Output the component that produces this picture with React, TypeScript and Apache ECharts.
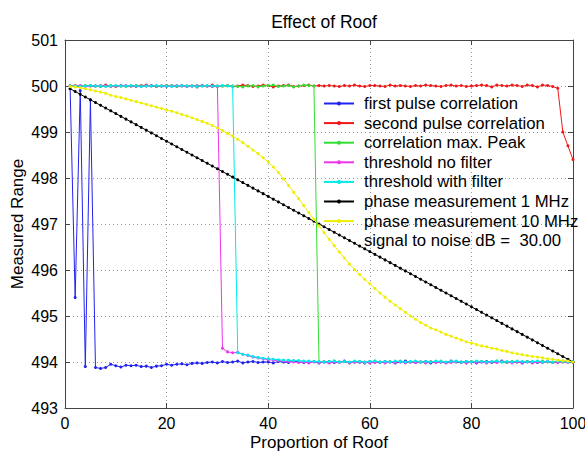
import React, { useEffect, useRef } from "react";
import * as echarts from "echarts";

const xs = Array.from({ length: 100 }, (_, i) => i + 1);

const firstPulse = [
  500, 495.4, 499.9, 493.9, 499.7, 493.88, 493.86, 493.88, 493.95, 493.92,
  493.89, 493.93, 493.92, 493.93, 493.9, 493.91, 493.88, 493.91, 493.92, 493.95,
  493.93, 493.95, 493.96, 493.94, 493.97, 493.98, 493.97, 493.99, 494.0, 493.98,
  494.01, 493.99, 494.0, 494.02, 493.98, 494.0, 494.01, 493.99, 494.0, 494.0,
  493.98, 494.01, 494.0, 493.99, 494.02, 494.0, 493.99, 494.0, 494.01, 493.98,
  494.0, 494.01, 493.99, 494.0, 494.02, 493.99, 494.0, 494.0, 493.98, 494.01,
  494.0, 493.99, 494.01, 494.0, 493.98, 494.0, 494.02, 494.0, 493.99, 494.0,
  494.01, 493.98, 494.0, 494.0, 493.99, 494.02, 494.0, 493.99, 494.01, 494.0,
  493.98, 494.0, 494.01, 493.99, 494.0, 494.02, 493.99, 494.0, 494.0, 493.98,
  494.01, 494.0, 493.99, 494.0, 494.01, 493.99, 494.0, 494.02, 494.0, 494.0,
];

const secondPulse = [
  500, 500.01, 499.99, 500, 500.01, 500, 499.99, 500.02, 500, 499.99,
  500.01, 500, 500, 499.99, 500.01, 500.02, 500, 499.99, 500, 500.01,
  500, 499.99, 500.01, 500, 500, 499.98, 500.01, 500, 500.02, 499.99,
  500, 500.01, 499.99, 500, 500.02, 500.01, 499.99, 500, 500.02, 500.01,
  499.98, 500, 500.01, 500.02, 499.99, 500, 500.01, 500.02, 500, 500.01,
  500, 500.01, 500, 499.99, 500.01, 500, 500.02, 500, 499.99, 500.01,
  500.01, 500, 499.99, 500.02, 500, 500.01, 500, 499.99, 500.01, 500,
  500.02, 500.01, 500, 499.99, 500.01, 500.02, 500, 500.01, 499.99, 500,
  500.01, 500.02, 500.01, 499.98, 500.02, 500.01, 500, 500.02, 500.01, 499.99,
  500.02, 500.01, 499.98, 500.02, 500.01, 499.99, 499.95, 499.0, 498.7, 498.4,
];

const corrMaxPeak = [
  500, 500, 499.99, 500.01, 500, 500, 499.99, 500, 500.01, 500,
  500, 499.99, 500, 500.01, 500, 500, 500.01, 499.99, 500, 500,
  500.01, 500, 500, 499.99, 500, 500.01, 500, 500, 499.99, 500,
  500, 500.01, 500, 499.99, 499.98, 500, 500.01, 499.98, 500, 500.01,
  500.02, 499.99, 500, 500.01, 499.98, 500, 500.02, 500.01, 500,
  494.0, 494.01, 493.99, 494.02, 494.0, 494.01, 493.98, 494.0, 494.01, 493.99, 494.0,
  494.02, 494.0, 493.99, 494.01, 494.0, 494.02, 493.99, 494.0, 494.01, 494.0,
  493.99, 494.01, 494.0, 494.02, 493.99, 494.0, 494.01, 494.0, 493.98, 494.01,
  494.0, 494.01, 493.99, 494.0, 494.02, 494.0, 493.99, 494.01, 494.0, 494.0,
  494.01, 493.99, 494.0, 494.02, 494.0, 493.99, 494.01, 494.0, 494.0, 494.0,
];

const thresholdNoFilter = [
  500, 500, 500.01, 499.99, 500, 500, 500.01, 500, 499.99, 500,
  500, 500.01, 500, 500, 499.99, 500, 500.01, 500, 500, 499.99,
  500, 500.01, 500, 499.99, 500, 500, 500.01, 500, 499.99, 500,
  494.3, 494.22, 494.2, 494.21, 494.17, 494.14, 494.11, 494.09, 494.07, 494.05,
  494.04, 494.03, 494.02, 494.01, 494.0, 493.99, 494.0, 493.98, 494.0, 493.99,
  494.0, 493.98, 494.0, 493.99, 494.01, 493.98, 494.0, 493.99, 494.0, 493.98,
  493.99, 494.0, 493.98, 494.0, 493.99, 494.01, 493.98, 494.0, 493.99, 494.0,
  493.98, 494.0, 493.99, 494.0, 493.98, 493.99, 494.01, 494.0, 493.98, 494.0,
  493.99, 494.0, 493.98, 494.0, 493.99, 494.01, 494.0, 493.98, 494.0, 493.99,
  494.0, 493.98, 494.0, 493.99, 494.01, 494.0, 493.99, 494.0, 493.99, 494.0,
];

const thresholdWithFilter = [
  500, 500, 499.99, 500, 500.01, 500, 500, 499.99, 500, 500.01,
  500, 500, 500.01, 500, 499.99, 500, 500, 500.01, 500, 500,
  499.99, 500, 500.01, 500, 500, 499.99, 500, 500.01, 500, 500,
  500.01, 500, 500,
  494.2, 494.17, 494.15, 494.12, 494.1, 494.08, 494.07,
  494.06, 494.05, 494.04, 494.04, 494.03, 494.03, 494.02, 494.02, 494.01, 494.01,
  494.0, 494.01, 494.02, 494.0, 494.01, 494.0, 494.02, 494.01, 494.0, 494.01,
  494.02, 494.0, 494.01, 494.0, 494.02, 494.01, 494.0, 494.01, 494.02, 494.0,
  494.01, 494.0, 494.02, 494.01, 494.0, 494.01, 494.02, 494.0, 494.01, 494.0,
  494.02, 494.01, 494.0, 494.01, 494.02, 494.0, 494.01, 494.0, 494.02, 494.01,
  494.0, 494.01, 494.02, 494.0, 494.01, 494.0, 494.02, 494.01, 494.0, 494.01,
];

const phase1MHz = [
  499.94, 499.88, 499.82, 499.76, 499.7, 499.64, 499.58, 499.52, 499.46, 499.4,
  499.34, 499.28, 499.22, 499.16, 499.1, 499.04, 498.98, 498.92, 498.86, 498.8,
  498.74, 498.68, 498.62, 498.56, 498.5, 498.44, 498.38, 498.32, 498.26, 498.2,
  498.14, 498.08, 498.02, 497.96, 497.9, 497.84, 497.78, 497.72, 497.66, 497.6,
  497.54, 497.48, 497.42, 497.36, 497.3, 497.24, 497.18, 497.12, 497.06, 497.0,
  496.94, 496.88, 496.82, 496.76, 496.7, 496.64, 496.58, 496.52, 496.46, 496.4,
  496.34, 496.28, 496.22, 496.16, 496.1, 496.04, 495.98, 495.92, 495.86, 495.8,
  495.74, 495.68, 495.62, 495.56, 495.5, 495.44, 495.38, 495.32, 495.26, 495.2,
  495.14, 495.08, 495.02, 494.96, 494.9, 494.84, 494.78, 494.72, 494.66, 494.6,
  494.54, 494.48, 494.42, 494.36, 494.3, 494.24, 494.18, 494.12, 494.06, 494.0,
];

const phase10MHz = [
  499.99, 499.98, 499.96, 499.94, 499.92, 499.89, 499.87, 499.84, 499.8, 499.77,
  499.75, 499.72, 499.69, 499.66, 499.63, 499.6, 499.57, 499.54, 499.51, 499.48,
  499.45, 499.42, 499.38, 499.35, 499.31, 499.27, 499.23, 499.19, 499.14, 499.09,
  499.03, 498.97, 498.91, 498.84, 498.77, 498.69, 498.61, 498.53, 498.44, 498.35,
  498.24, 498.12, 497.98, 497.84, 497.69, 497.55, 497.4, 497.25, 497.1, 496.96,
  496.81, 496.67, 496.53, 496.39, 496.26, 496.13, 496.01, 495.9, 495.8, 495.7,
  495.6, 495.5, 495.41, 495.32, 495.24, 495.16, 495.08, 495.0, 494.93, 494.86,
  494.8, 494.74, 494.7, 494.65, 494.6, 494.56, 494.52, 494.48, 494.44, 494.41,
  494.38, 494.35, 494.33, 494.3, 494.28, 494.25, 494.23, 494.2, 494.18, 494.16,
  494.14, 494.12, 494.11, 494.09, 494.07, 494.06, 494.04, 494.03, 494.02, 494.0,
];

const seriesNames = [
  "first pulse correlation",
  "second pulse correlation",
  "correlation max. Peak",
  "threshold no filter",
  "threshold with filter",
  "phase measurement 1 MHz",
  "phase measurement 10 MHz",
];
const snrLabel = "signal to noise dB =  30.00";
const seriesColors = ["#2222ee", "#ee1818", "#33dd33", "#ee33ee", "#00eaea", "#000000", "#eeee00"];
const seriesValues = [
  firstPulse, secondPulse, corrMaxPeak, thresholdNoFilter, thresholdWithFilter, phase1MHz, phase10MHz,
];

const xTicks = { min: 0, max: 100, interval: 20 };
const yTicks = { min: 493, max: 501, interval: 1 };

const FONT = "'Liberation Sans', Arial, Helvetica, sans-serif";
const AXIS_COLOR = "#444";

export default function App() {
  const ref = useRef<HTMLDivElement>(null);
  useEffect(() => {
    const chart = echarts.init(ref.current!, null, { renderer: "svg" });
    const series: any[] = seriesNames.map((name, k) => ({
      name,
      type: "line",
      data: xs.map((x, i) => [x, seriesValues[k][i]]),
      symbol: "circle",
      symbolSize: 3,
      showSymbol: true,
      lineStyle: { color: seriesColors[k], width: 1 },
      itemStyle: { color: seriesColors[k] },
      emphasis: { disabled: true },
      xAxisIndex: 0,
      yAxisIndex: 0,
      z: 2 + k,
    }));
    series.push({
      name: snrLabel,
      type: "line",
      data: [],
      symbol: "none",
      lineStyle: { width: 0, color: "transparent" },
      itemStyle: { color: "transparent" },
    });
    const baseAxis = {
      type: "value",
      axisLine: { show: true, onZero: false, lineStyle: { color: AXIS_COLOR, width: 1 } },
      axisTick: { show: true, inside: true, length: 5, lineStyle: { color: AXIS_COLOR } },
    };
    chart.setOption({
      animation: false,
      title: {
        text: "Effect of Roof",
        left: 319,
        textAlign: "center",
        top: 8,
        textStyle: { fontFamily: FONT, fontSize: 17.5, fontWeight: "normal", color: "#000" },
      },
      grid: { left: 65, right: 12, top: 40, bottom: 45, containLabel: false, outerBoundsMode: "none" },
      legend: {
        orient: "vertical",
        left: 323,
        top: 95,
        padding: 0,
        itemGap: 2.6,
        itemWidth: 30,
        itemHeight: 5,
        selectedMode: false,
        textStyle: { fontFamily: FONT, fontSize: 16.7, color: "#000", padding: [0, 0, 0, 5], lineHeight: 17 },
        data: [...seriesNames, { name: snrLabel, icon: "none" }],
      },
      xAxis: [
        {
          ...baseAxis,
          ...xTicks,
          position: "bottom",
          axisLabel: { color: "#000", fontSize: 16, fontFamily: FONT, margin: 7 },
          splitLine: { show: true, lineStyle: { color: "#999", type: [1, 3], width: 1 } },
          name: "Proportion of Roof",
          nameLocation: "middle",
          nameGap: 26,
          nameMoveOverlap: false,
          nameTextStyle: { color: "#000", fontSize: 17, fontFamily: FONT, lineHeight: 17 },
        },
        {
          ...baseAxis,
          ...xTicks,
          position: "top",
          axisLabel: { show: false },
          splitLine: { show: false },
        },
      ],
      yAxis: [
        {
          ...baseAxis,
          ...yTicks,
          position: "left",
          axisLabel: { color: "#000", fontSize: 16, fontFamily: FONT, margin: 7 },
          splitLine: { show: true, lineStyle: { color: "#999", type: [1, 3], width: 1 } },
          name: "Measured Range",
          nameLocation: "middle",
          nameGap: 39,
          nameMoveOverlap: false,
          nameTextStyle: { color: "#000", fontSize: 17, fontFamily: FONT, lineHeight: 17 },
        },
        {
          ...baseAxis,
          ...yTicks,
          position: "right",
          axisLabel: { show: false },
          splitLine: { show: false },
        },
      ],
      series,
    });
    return () => chart.dispose();
  }, []);
  return (
    <div
      ref={ref}
      style={{ position: "fixed", left: 0, top: 0, width: 585, height: 453, background: "#fff" }}
    />
  );
}
